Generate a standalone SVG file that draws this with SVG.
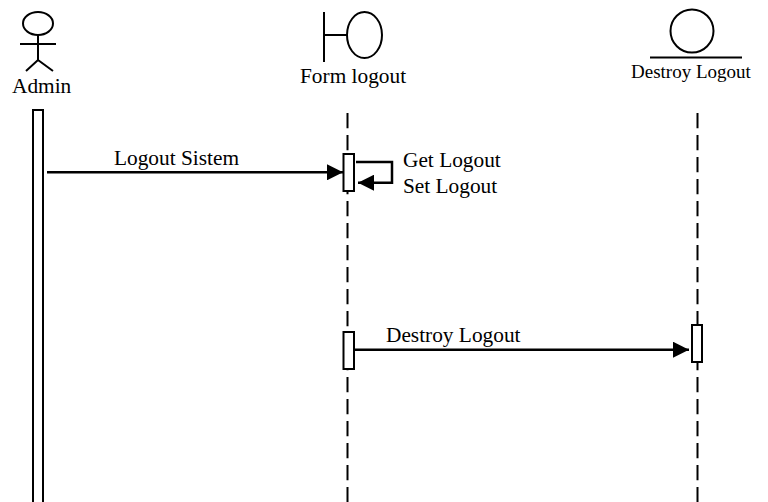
<svg xmlns="http://www.w3.org/2000/svg" width="768" height="502" viewBox="0 0 768 502">
<style>
text{font-family:"Liberation Serif","Times New Roman",serif;fill:#000;font-size:21.33px}
.h{font-size:19px}
.s{fill:none;stroke:#000;stroke-width:2}
.b{fill:#fff;stroke:#000;stroke-width:2}
.l{fill:none;stroke:#000;stroke-width:2;stroke-dasharray:15.3 6.7}
.c{fill:none;stroke:#000;stroke-width:2.5}
</style>
<defs><marker id="a" markerUnits="userSpaceOnUse" markerWidth="17" markerHeight="16" refX="16" refY="8" orient="auto"><path d="M0 0L16 8L0 16Z" fill="#000"/></marker></defs>
<rect width="768" height="502" fill="#fff"/>
<g id="lifelines">
<path class="l" d="M347.500 113V502"/>
<path class="l" d="M697.500 113V502"/>
</g>
<g id="node-admin">
<ellipse class="s" cx="38" cy="23.500" rx="15" ry="11.500"/>
<path class="s" d="M38 35V60M20 44H56M26 71L38 60L53 71"/>
<text x="12" y="92.500">Admin</text>
<rect class="b" x="33" y="110" width="10" height="394"/>
</g>
<g id="node-form-logout">
<path class="s" d="M324 12V62M324 35H347"/>
<ellipse class="s" cx="364.500" cy="35" rx="17.500" ry="23"/>
<text x="300" y="83">Form logout</text>
<rect class="b" x="343.500" y="154" width="10.500" height="37"/>
<rect class="b" x="343.500" y="332" width="10.500" height="37"/>
</g>
<g id="node-destroy-logout">
<circle class="s" cx="692" cy="31" r="21.500"/>
<path class="s" d="M650 57.500H742"/>
<text class="h" x="631" y="77.500">Destroy Logout</text>
<rect class="b" x="692" y="325" width="10" height="37"/>
</g>
<g id="connectors">
<path class="c" d="M47 172.300H343" marker-end="url(#a)"/>
<path class="c" d="M356 162H392V182.700H358" marker-end="url(#a)"/>
<path class="c" d="M355 349.700H689" marker-end="url(#a)"/>
<text x="114" y="165">Logout Sistem</text>
<text x="403" y="167">Get Logout</text>
<text x="403" y="193">Set Logout</text>
<text x="386" y="342">Destroy Logout</text>
</g>
</svg>
